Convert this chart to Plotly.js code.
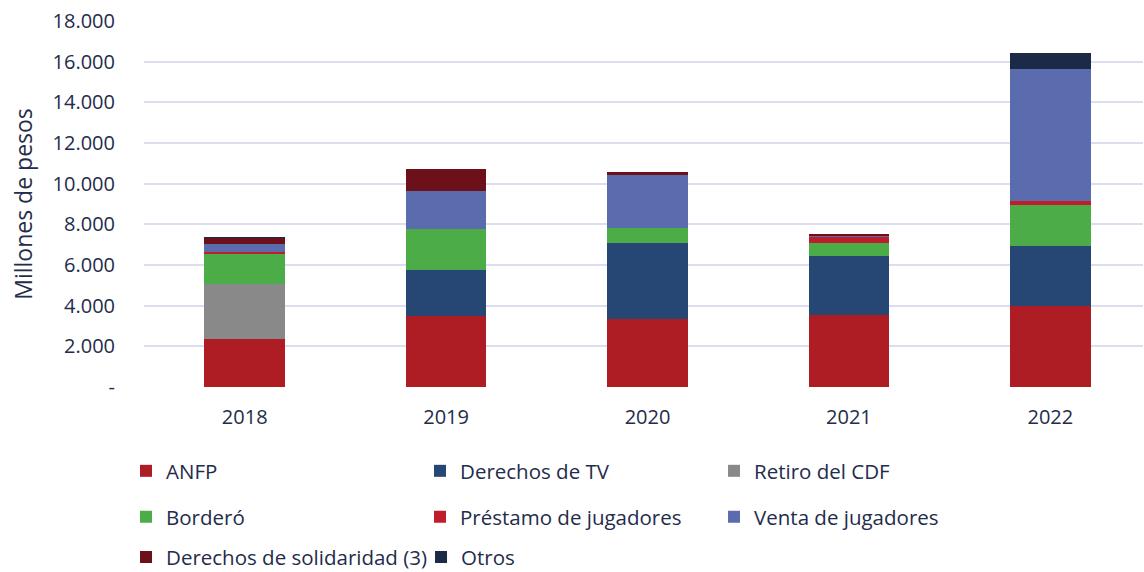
<!DOCTYPE html>
<html>
<head>
<meta charset="utf-8">
<script src="https://cdn.plot.ly/plotly-3.0.1.min.js"></script>
<style>html,body{margin:0;padding:0;background:#fff;}#chart{width:1144px;height:572px;}</style>
</head>
<body>
<div id="chart"></div>
<script>
const years = ["2018", "2019", "2020", "2021", "2022"];
const anfp = [2370, 3490, 3340, 3530, 3960];
const derechosTV = [0, 2270, 3730, 2930, 2990];
const retiroCDF = [2700, 0, 0, 0, 0];
const bordero = [1490, 2010, 750, 640, 2000];
const prestamo = [60, 0, 0, 260, 210];
const venta = [400, 1880, 2600, 80, 6470];
const solidaridad = [320, 1080, 130, 70, 0];
const otros = [30, 0, 0, 30, 800];
const yTickVals = [0, 2000, 4000, 6000, 8000, 10000, 12000, 14000, 16000, 18000];
const yTickText = ["-", "2.000", "4.000", "6.000", "8.000", "10.000", "12.000", "14.000", "16.000", "18.000"];

const FONT = "'Open Sans', 'Noto Sans', sans-serif";
const TXT = "#232C4A";

function tr(name, vals, color, legend) {
  return {type: "bar", name: name, x: years, y: vals, marker: {color: color, line: {width: 0}},
          legend: legend, hoverinfo: "skip"};
}
const data = [
  tr("ANFP", anfp, "#AE1C24", "legend"),
  tr("Derechos de TV", derechosTV, "#264773", "legend2"),
  tr("Retiro del CDF", retiroCDF, "#898989", "legend3"),
  tr("Borderó", bordero, "#4BAC48", "legend4"),
  tr("Préstamo de jugadores", prestamo, "#C01D2A", "legend5"),
  tr("Venta de jugadores", venta, "#5A6BAE", "legend6"),
  tr("Derechos de solidaridad (3)", solidaridad, "#6C1119", "legend7"),
  tr("Otros", otros, "#1B2A47", "legend8")
];
function leg(x, y) {
  return {orientation: "h", xref: "paper", yref: "paper", xanchor: "left", yanchor: "middle", x: x, y: y,
    font: {family: FONT, size: 20.5, color: TXT}, itemwidth: 30, bgcolor: "rgba(0,0,0,0)", borderwidth: 0};
}
const c1 = -0.018, c2 = 0.2763, c3 = 0.5706, c2b = 0.2773;
const r1 = -0.2295, r2 = -0.355, r3 = -0.465;
const layout = {
  width: 1144, height: 572,
  margin: {l: 144, r: 1, t: 21, b: 185, autoexpand: false},
  paper_bgcolor: "#fff", plot_bgcolor: "#fff",
  barmode: "stack", bargap: 0.6,
  font: {family: FONT, size: 20, color: TXT},
  xaxis: {type: "category", range: [-0.5, 4.46], tickfont: {family: FONT, size: 20, color: TXT},
          showgrid: false, showline: false, ticks: "", zeroline: false, fixedrange: true, ticklabelstandoff: 16},
  yaxis: {range: [0, 18000], tickvals: yTickVals, ticktext: yTickText, showgrid: true, gridcolor: "#DCDDEE",
          gridwidth: 2, zeroline: false, ticks: "", ticklabelstandoff: 28,
          tickfont: {family: FONT, size: 20, color: TXT},
          title: {text: "Millones de pesos", font: {family: FONT, size: 23, color: TXT}, standoff: 13}, fixedrange: true},
  showlegend: true,
  legend: leg(c1, r1), legend2: leg(c2, r1), legend3: leg(c3, r1),
  legend4: leg(c1, r2), legend5: leg(c2, r2), legend6: leg(c3, r2),
  legend7: leg(c1, r3), legend8: leg(c2b, r3)
};
Plotly.newPlot("chart", data, layout, {displayModeBar: false, staticPlot: true});
</script>
</body>
</html>
